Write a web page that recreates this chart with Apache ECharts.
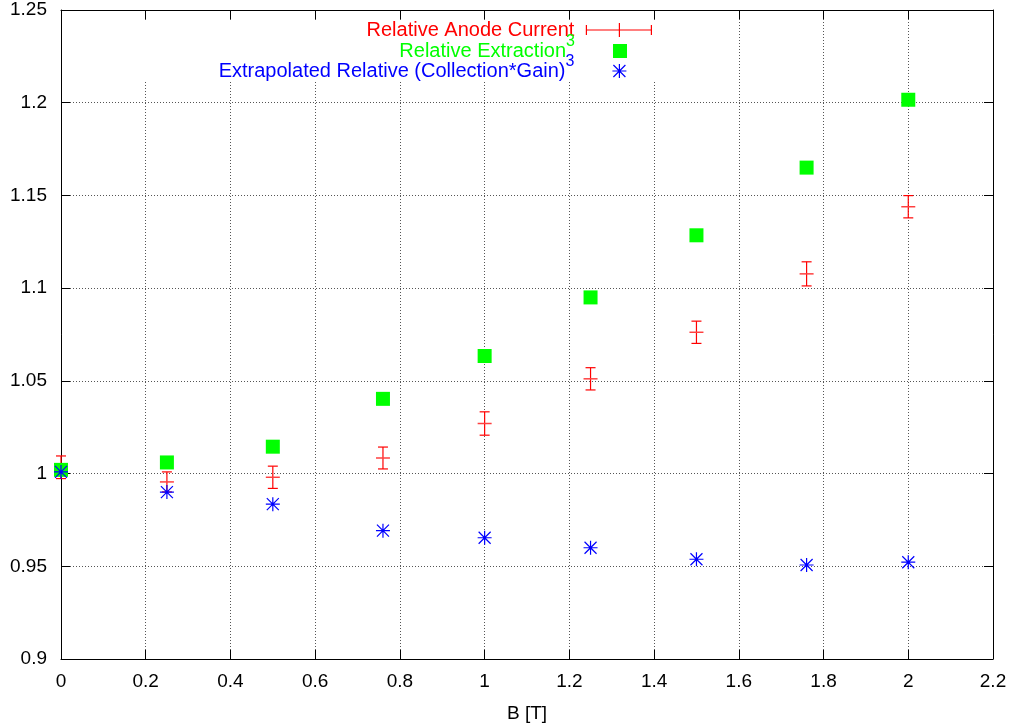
<!DOCTYPE html>
<html>
<head>
<meta charset="utf-8">
<script src="https://cdn.jsdelivr.net/npm/echarts@6/dist/echarts.min.js"></script>
<style>
html,body{margin:0;padding:0;background:#fff;}
#chart{width:1010px;height:728px;}
</style>
</head>
<body>
<div id="chart"></div>
<script>
// ---- data ----
const bField = [0, 0.25, 0.5, 0.76, 1.0, 1.25, 1.5, 1.76, 2.0];
const anodeCurrent = [1.0034, 0.9955, 0.998, 1.0084, 1.027, 1.0511, 1.0762, 1.1077, 1.1439];
const anodeCurrentErr = [0.0061, 0.0054, 0.006, 0.0059, 0.0063, 0.006, 0.006, 0.0065, 0.006];
const extraction3 = [1.002, 1.006, 1.0145, 1.0403, 1.0634, 1.095, 1.1285, 1.165, 1.2016];
const collGain3 = [1.0009, 0.990, 0.9835, 0.9692, 0.9654, 0.960, 0.9538, 0.9507, 0.9522];
const seriesNames = ['Relative Anode Current', 'Relative Extraction', 'Extrapolated Relative (Collection*Gain)'];
const xAxisName = 'B [T]';

const FONT = 'Liberation Sans';
const chart = echarts.init(document.getElementById('chart'), null, {renderer: 'canvas'});

const gridLine = {show: true, lineStyle: {color: '#555', width: 1, type: [1, 2]}};
const frameLine = {show: true, onZero: false, lineStyle: {color: '#000', width: 1}};
const tick = {show: true, inside: true, length: 9, lineStyle: {color: '#000', width: 1}};

function renderErr(params, api) {
  const x = api.value(0), y = api.value(1), e = api.value(2);
  const c = api.coord([x, y]);
  const t = api.coord([x, y + e]);
  const b = api.coord([x, y - e]);
  const cap = 5, arm = 7;
  const st = {stroke: '#ff0000', lineWidth: 1.2};
  const stArm = {stroke: '#ff4040', lineWidth: 1.5};
  return {
    type: 'group',
    children: [
      {type: 'line', shape: {x1: c[0], y1: t[1], x2: c[0], y2: b[1]}, style: st},
      {type: 'line', shape: {x1: c[0] - cap, y1: t[1], x2: c[0] + cap, y2: t[1]}, style: st},
      {type: 'line', shape: {x1: c[0] - cap, y1: b[1], x2: c[0] + cap, y2: b[1]}, style: st},
      {type: 'line', shape: {x1: c[0] - arm, y1: c[1], x2: c[0] + arm, y2: c[1]}, style: stArm}
    ]
  };
}

const starPath = 'path://M0 7L14 7M7 0L7 14M1 1L13 13M13 1L1 13';
const legendIconRed = 'path://M0 0M73 14M7 2L7 12M7 7L72 7M72 2L72 12M40 0L40 14';
const legendIconGreen = 'path://M0 0M73 14M33 0L47 0L47 14L33 14Z';
const legendIconBlue = 'path://M0 0M73 14M33 7L47 7M40 0L40 14M34 1L46 13M46 1L34 13';

const legendRich = {
  t: {fontFamily: FONT, fontSize: 20, lineHeight: 22},
  s: {fontFamily: FONT, fontSize: 16, lineHeight: 16, padding: [0, 0, 18, 0]}
};
function mkLegend(name, top, icon, color, fill, sup) {
  return {
    data: [{name: name, icon: icon}],
    orient: 'vertical',
    align: 'right',
    right: 1010 - 653,
    top: top,
    padding: 0,
    itemWidth: 73,
    itemHeight: 14,
    selectedMode: false,
    itemStyle: fill ? {color: color, borderWidth: 0} : {color: 'rgba(0,0,0,0)', borderColor: color, borderWidth: 1.2},
    formatter: sup ? '{t|{name}}{s|3}' : '{t|{name}}',
    textStyle: {color: color, fontFamily: FONT, fontSize: 20, rich: {
      t: Object.assign({color: color}, legendRich.t),
      s: Object.assign({color: color}, legendRich.s)
    }}
  };
}

const option = {
  backgroundColor: '#fff',
  animation: false,
  grid: {left: 61, right: 17, top: 10, bottom: 67, containLabel: false},
  graphic: [{
    type: 'rect', left: 140, top: 20, z: 1, silent: true,
    shape: {width: 528, height: 60},
    style: {fill: '#fff'}
  }],
  legend: [
    mkLegend(seriesNames[0], 20, legendIconRed, '#ff0000', false, false),
    mkLegend(seriesNames[1], 34, legendIconGreen, '#00ff00', true, true),
    mkLegend(seriesNames[2], 54, legendIconBlue, '#0000ff', false, true)
  ],
  xAxis: [{
    type: 'value', position: 'bottom', min: 0, max: 2.2, interval: 0.2,
    name: xAxisName, nameLocation: 'middle', nameGap: 45,
    nameTextStyle: {fontFamily: FONT, fontSize: 19, color: '#000'},
    axisLine: frameLine, axisTick: tick, splitLine: gridLine,
    axisLabel: {fontFamily: FONT, fontSize: 19, color: '#000', margin: 13,
      formatter: v => String(+v.toFixed(2))}
  }, {
    type: 'value', position: 'top', min: 0, max: 2.2, interval: 0.2,
    axisLine: frameLine, axisTick: tick, splitLine: {show: false}, axisLabel: {show: false}
  }],
  yAxis: [{
    type: 'value', position: 'left', min: 0.9, max: 1.25, interval: 0.05,
    axisLine: frameLine, axisTick: tick, splitLine: gridLine,
    axisLabel: {fontFamily: FONT, fontSize: 19, color: '#000', margin: 14,
      formatter: v => String(+v.toFixed(2))}
  }, {
    type: 'value', position: 'right', min: 0.9, max: 1.25, interval: 0.05,
    axisLine: frameLine, axisTick: tick, splitLine: {show: false}, axisLabel: {show: false}
  }],
  series: [{
    name: seriesNames[0],
    type: 'custom',
    renderItem: renderErr,
    itemStyle: {color: '#ff0000'},
    encode: {x: 0, y: 1},
    data: bField.map((b, i) => [b, anodeCurrent[i], anodeCurrentErr[i]]),
    z: 2
  }, {
    name: seriesNames[1],
    type: 'scatter',
    symbol: 'rect',
    symbolSize: 14,
    itemStyle: {color: '#00ff00', opacity: 1},
    data: bField.map((b, i) => [b, extraction3[i]]),
    z: 3
  }, {
    name: seriesNames[2],
    type: 'scatter',
    symbol: starPath,
    symbolSize: 14,
    itemStyle: {color: 'rgba(0,0,0,0)', borderColor: '#0000ff', borderWidth: 1.2, opacity: 1},
    data: bField.map((b, i) => [b, collGain3[i]]),
    z: 4
  }]
};
chart.setOption(option);
</script>
</body>
</html>
